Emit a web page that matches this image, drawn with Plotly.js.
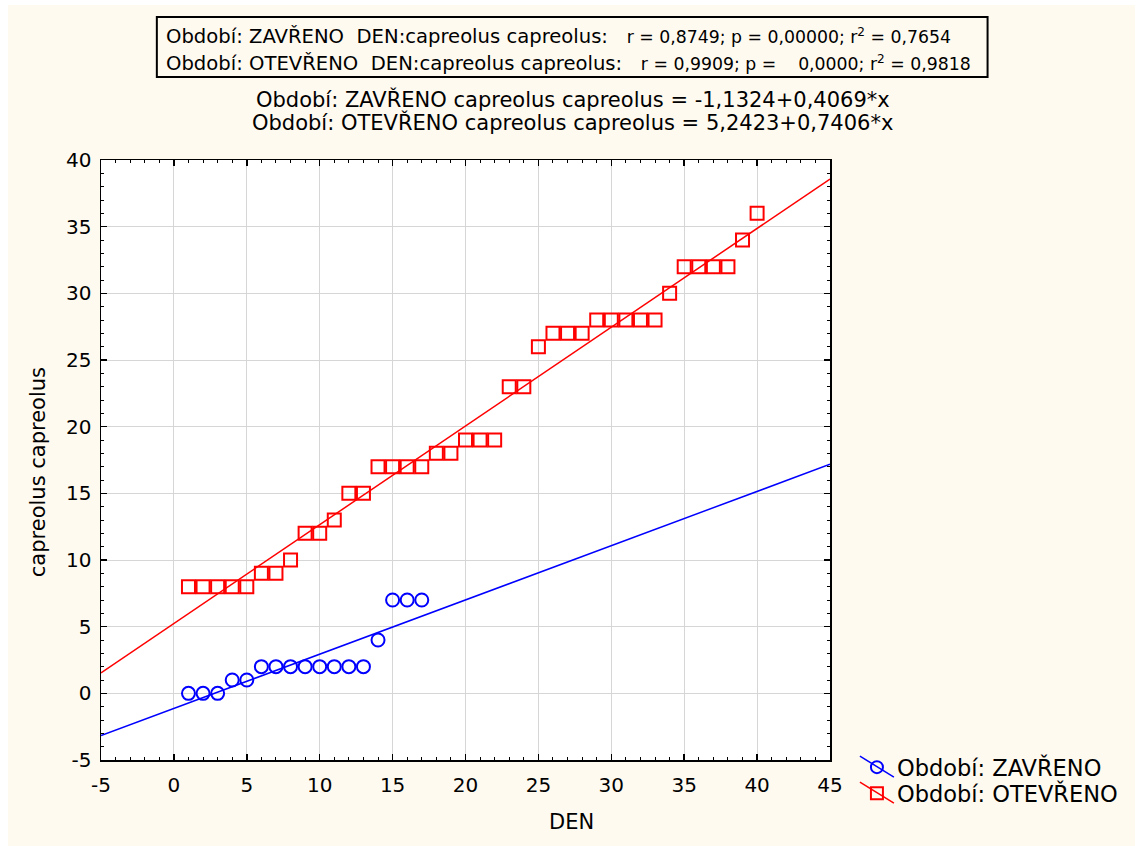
<!DOCTYPE html>
<html>
<head>
<meta charset="utf-8">
<script src="https://cdn.plot.ly/plotly-3.0.1.min.js"></script>
<style>
  html, body { margin: 0; padding: 0; background: #ffffff; }
  #chart { position: absolute; left: 8px; top: 5px; width: 1127px; height: 841px; }
</style>
</head>
<body>
<div id="chart"></div>
<script>
// ---- data ----
const denZavreno = [1,2,3,4,5,6,7,8,9,10,11,12,13,14,15,16,17];
const capZavreno = [0,0,0,1,1,2,2,2,2,2,2,2,2,4,7,7,7];

const denOtevreno = [1,2,3,4,5,6,7,8,9,10,11,12,13,14,15,16,17,18,19,20,
                     21,22,23,24,25,26,27,28,29,30,31,32,33,34,35,36,37,38,39,40];
const capOtevreno = [8,8,8,8,8,9,9,10,12,12,13,15,15,17,17,17,17,18,18,19,
                     19,19,23,23,26,27,27,27,28,28,28,28,28,30,32,32,32,32,34,36];

const seriesNames = ['Období: ZAVŘENO', 'Období: OTEVŘENO'];
const fitIntercepts = [-1.1324, 5.2423];
const fitSlopes = [0.4069, 0.7406];
const statR = ['0,8749', '0,9909'];
const statP = ['0,00000', '0,0000'];
const statR2 = ['0,7654', '0,9818'];
const interceptLabels = ['-1,1324', '5,2423'];
const slopeLabels = ['0,4069', '0,7406'];

const xRange = [-5, 45];
const yRange = [-5, 40];
const xTickVals = [-5, 0, 5, 10, 15, 20, 25, 30, 35, 40, 45];
const xTickText = ['-5', '0', '5', '10', '15', '20', '25', '30', '35', '40', '45'];
const yTickVals = [-5, 0, 5, 10, 15, 20, 25, 30, 35, 40];
const yTickText = ['-5', '0', '5', '10', '15', '20', '25', '30', '35', '40'];
const xTitle = 'DEN';
const yTitle = 'capreolus capreolus';

// ---- layout helpers (pixel -> paper, plot area 101..832 x 160..760 on page) ----
const PL = 101, PR = 832, PT = 160, PB = 760;
const px = x => (x - PL) / (PR - PL);
const py = y => (PB - y) / (PB - PT);
const NB = '\u00A0';
const sp = n => NB.repeat(n);

const FONT = 'DejaVu Sans, Liberation Sans, Arial, sans-serif';
const colors = ['#0000ff', '#ff0000'];

const fitX = xRange.slice();
const traces = [
  { x: fitX, y: fitX.map(v => fitIntercepts[0] + fitSlopes[0] * v), mode: 'lines',
    line: { color: colors[0], width: 1.5 }, showlegend: false, hoverinfo: 'skip' },
  { x: fitX, y: fitX.map(v => fitIntercepts[1] + fitSlopes[1] * v), mode: 'lines',
    line: { color: colors[1], width: 1.5 }, showlegend: false, hoverinfo: 'skip' },
  { x: denZavreno, y: capZavreno, mode: 'markers', name: seriesNames[0], showlegend: false,
    marker: { symbol: 'circle-open', size: 13, color: colors[0], line: { width: 2, color: colors[0] } } },
  { x: denOtevreno, y: capOtevreno, mode: 'markers', name: seriesNames[1], showlegend: false,
    marker: { symbol: 'square-open', size: 13, color: colors[1], line: { width: 2, color: colors[1] } } },
  // legend entries
  { x: [null], y: [null], mode: 'lines+markers', name: seriesNames[0],
    line: { color: colors[0], width: 1.5 },
    marker: { symbol: 'circle-open', size: 12, color: colors[0], line: { width: 2, color: colors[0] } } },
  { x: [null], y: [null], mode: 'lines+markers', name: seriesNames[1],
    line: { color: colors[1], width: 1.5 },
    marker: { symbol: 'square-open', size: 12, color: colors[1], line: { width: 2, color: colors[1] } } }
];

const axisCommon = {
  showgrid: true, gridcolor: '#d6d6d6', gridwidth: 1,
  zeroline: false, showline: true, linecolor: '#000000', linewidth: 1.5, mirror: 'ticks',
  ticks: 'inside', ticklen: 6, tickwidth: 1.5, tickcolor: '#000000', tickmode: 'array',
  minor: { ticks: 'inside', ticklen: 3, tickwidth: 1, tickcolor: '#000000', dtick: 1, tick0: 0, showgrid: false },
  tickfont: { family: FONT, size: 20, color: '#000000' },
  fixedrange: true
};

const boxGapAfterName = [2, 2];
const boxGapAfterColon = [3, 3];
const boxGapAfterP = [1, 4];
const annotations = [];
for (let i = 0; i < 2; i++) {
  annotations.push({
    xref: 'paper', yref: 'paper', x: px(164), y: py(i === 0 ? 37 : 63),
    xanchor: 'left', yanchor: 'middle', showarrow: false,
    font: { family: FONT, size: 19.6, color: '#000000' },
    text: seriesNames[i] + sp(boxGapAfterName[i]) + xTitle + ':' + yTitle + ':' + sp(boxGapAfterColon[i]) +
          '<span style="font-size:17.3px">r = ' + statR[i] + '; p =' + sp(boxGapAfterP[i]) + statP[i] +
          '; r<sup>2</sup> = ' + statR2[i] + '</span>'
  });
  annotations.push({
    xref: 'paper', yref: 'paper', x: px(574), y: py(i === 0 ? 100 : 123),
    xanchor: 'center', yanchor: 'middle', showarrow: false,
    font: { family: FONT, size: 21, color: '#000000' },
    text: seriesNames[i] + ' ' + yTitle + ' = ' + interceptLabels[i] + '+' + slopeLabels[i] + '*x'
  });
}
annotations.push({
  xref: 'paper', yref: 'paper', x: px(573), y: py(822), xanchor: 'center', yanchor: 'middle',
  showarrow: false, font: { family: FONT, size: 21, color: '#000000' }, text: xTitle
});
annotations.push({
  xref: 'paper', yref: 'paper', x: px(38), y: py(472), xanchor: 'center', yanchor: 'middle',
  textangle: -90, showarrow: false, font: { family: FONT, size: 21, color: '#000000' }, text: yTitle
});

const layout = {
  width: 1127, height: 841,
  margin: { l: PL - 8, r: 1135 - PR, t: PT - 5, b: 841 - (PB - 5), pad: 0 },
  paper_bgcolor: '#fffaf0',
  plot_bgcolor: '#ffffff',
  font: { family: FONT, color: '#000000' },
  xaxis: Object.assign({}, axisCommon, { range: xRange, tickvals: xTickVals, ticktext: xTickText, ticklabelstandoff: 6 }),
  yaxis: Object.assign({}, axisCommon, { range: yRange, tickvals: yTickVals, ticktext: yTickText, ticklabelstandoff: 4 }),
  showlegend: true,
  legend: {
    x: px(859), y: py(746), xanchor: 'left', yanchor: 'top',
    bgcolor: 'rgba(0,0,0,0)', borderwidth: 0,
    font: { family: FONT, size: 22.5, color: '#000000' },
    tracegroupgap: 0, itemclick: false, itemdoubleclick: false
  },
  shapes: [{
    type: 'rect', xref: 'paper', yref: 'paper',
    x0: px(157), x1: px(990), y0: py(77), y1: py(17),
    line: { color: '#000000', width: 2 }, fillcolor: 'rgba(0,0,0,0)'
  }],
  annotations: annotations
};

Plotly.newPlot('chart', traces, layout, { displayModeBar: false, staticPlot: true }).then(function (gd) {
  // diagonal legend lines as in the reference
  gd.querySelectorAll('.legend .legendlines path').forEach(function (p) {
    p.setAttribute('d', 'M3,-11L37,10');
  });
  // tighter row spacing in the legend (26px, as in the reference)
  const items = gd.querySelectorAll('.legend g.traces');
  if (items.length > 1) {
    const t0 = items[0].getBoundingClientRect().top;
    const t1 = items[1].getBoundingClientRect().top;
    const delta = 26 - (t1 - t0);
    const tr = items[1].getAttribute('transform') || '';
    items[1].setAttribute('transform', tr + ' translate(0,' + delta + ')');
  }
});
</script>
</body>
</html>
